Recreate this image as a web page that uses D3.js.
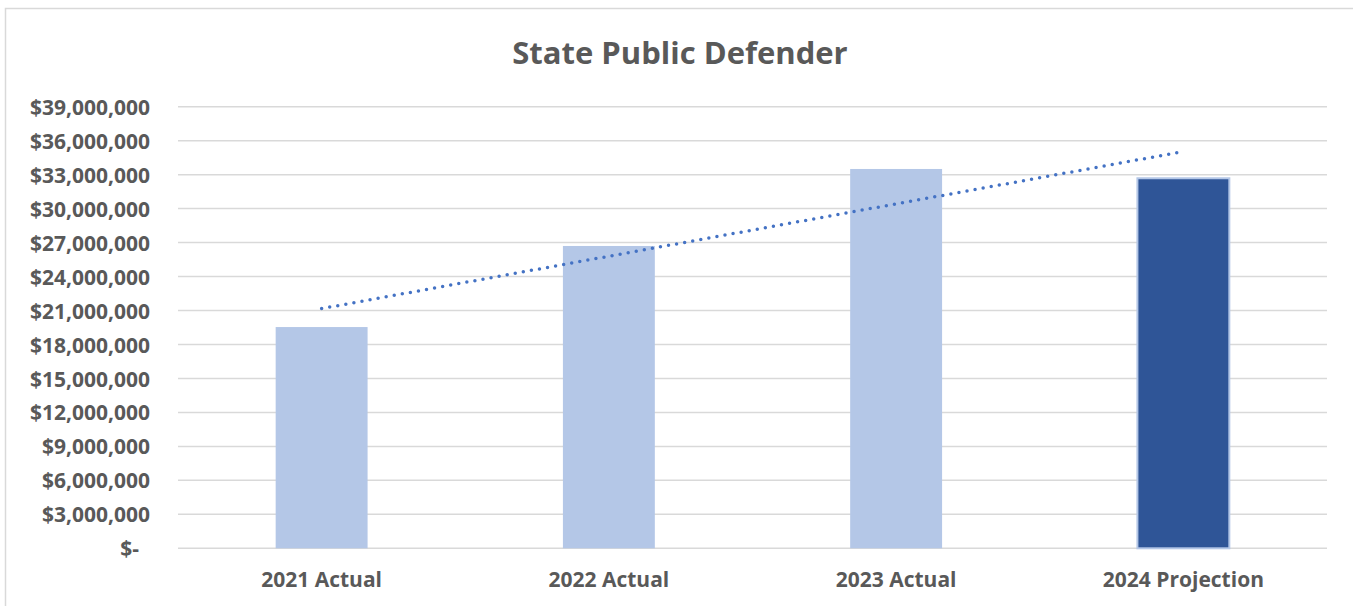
<!DOCTYPE html>
<html>
<head>
<meta charset="utf-8">
<script src="https://cdn.jsdelivr.net/npm/d3@7"></script>
<style>
  html, body { margin: 0; padding: 0; background: #fff; }
  svg { display: block; }
  text { font-family: "Open Sans", "Noto Sans", sans-serif; font-weight: 700; fill: #595959; }
</style>
</head>
<body>
<svg id="chart" width="1353" height="606"></svg>
<script>
// Annual spending, State Public Defender
const categories = ["2021 Actual", "2022 Actual", "2023 Actual", "2024 Projection"];
const amounts = [19540000, 26700000, 33500000, 32680000];
const projected = [false, false, false, true];
const tickValues = [0, 3e6, 6e6, 9e6, 12e6, 15e6, 18e6, 21e6, 24e6, 27e6, 30e6, 33e6, 36e6, 39e6];
const titleText = "State Public Defender";

const svg = d3.select("#chart");

// chart frame
svg.append("rect")
  .attr("x", 5.5).attr("y", 8.5)
  .attr("width", 1400).attr("height", 700)
  .attr("fill", "#fff").attr("stroke", "#D9D9D9").attr("stroke-width", 1.5);

const x = d3.scaleBand()
  .domain(categories)
  .range([178, 1327])
  .paddingInner(0.68)
  .paddingOuter(0.34);

const y = d3.scaleLinear()
  .domain([0, 39e6])
  .range([548.3, 106.7]);

// horizontal gridlines
svg.append("g")
  .selectAll("line")
  .data(tickValues)
  .join("line")
  .attr("x1", 178).attr("x2", 1327)
  .attr("y1", d => y(d)).attr("y2", d => y(d))
  .attr("stroke", "#D9D9D9").attr("stroke-width", 1.5);

// y axis labels
const fmt = d3.format("$,.0f");
const yAxis = svg.append("g")
  .attr("transform", "translate(150,0)")
  .call(d3.axisLeft(y).tickValues(tickValues).tickSize(0).tickPadding(0)
    .tickFormat(d => d === 0 ? "$-" : fmt(d)));
yAxis.select(".domain").remove();
yAxis.selectAll("text")
  .attr("font-size", 21)
  .attr("fill", "#595959")
  .attr("font-family", null)
  .attr("dy", "0.36em")
  .attr("x", d => d === 0 ? -11 : 0);

// bars
svg.append("g")
  .selectAll("rect")
  .data(categories)
  .join("rect")
  .attr("x", d => x(d))
  .attr("width", x.bandwidth())
  .attr("y", (d, i) => y(amounts[i]))
  .attr("height", (d, i) => y(0) - y(amounts[i]))
  .attr("fill", (d, i) => projected[i] ? "#2F5597" : "#B4C7E7")
  .attr("stroke", (d, i) => projected[i] ? "#B4C7E7" : "none")
  .attr("stroke-width", 2);

// linear trendline (least squares fit over the four years)
const idx = amounts.map((d, i) => i);
const mx = d3.mean(idx), my = d3.mean(amounts);
const slope = d3.sum(idx, i => (i - mx) * (amounts[i] - my)) / d3.sum(idx, i => (i - mx) ** 2);
const intercept = my - slope * mx;
const cx = i => x(categories[i]) + x.bandwidth() / 2;
const trend = [0, categories.length - 1].map(i => [cx(i), y(intercept + slope * i)]);

svg.append("path")
  .attr("d", d3.line()(trend))
  .attr("fill", "none")
  .attr("stroke", "#4472C4")
  .attr("stroke-width", 3.5)
  .attr("stroke-linecap", "round")
  .attr("stroke-dasharray", "0 8.2");

// category labels
const xAxis = svg.append("g")
  .attr("transform", "translate(0,548.3)")
  .call(d3.axisBottom(x).tickSize(0).tickPadding(0));
xAxis.select(".domain").remove();
xAxis.selectAll("text")
  .attr("font-size", 21)
  .attr("fill", "#595959")
  .attr("font-family", null)
  .attr("dy", null)
  .attr("y", 39);

// title
svg.append("text")
  .attr("x", 680).attr("y", 64)
  .attr("text-anchor", "middle")
  .attr("font-size", 31)
  .text(titleText);
</script>
</body>
</html>
